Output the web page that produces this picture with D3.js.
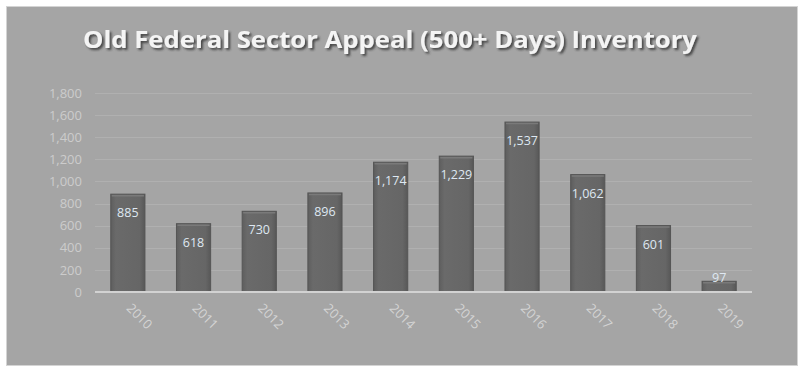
<!DOCTYPE html>
<html>
<head>
<meta charset="utf-8">
<script src="https://cdn.jsdelivr.net/npm/d3@7"></script>
<style>
  body { margin: 0; background: #fff; }
  svg { display: block; }
</style>
</head>
<body>
<div id="chart"></div>
<script>
'use strict'

// chart data
const years = ['2010', '2011', '2012', '2013', '2014', '2015', '2016', '2017', '2018', '2019']
const inventory = [885, 618, 730, 896, 1174, 1229, 1537, 1062, 601, 97]
const yTicks = [0, 200, 400, 600, 800, 1000, 1200, 1400, 1600, 1800]
const title = 'Old Federal Sector Appeal (500+ Days) Inventory'

const W = 805
const H = 374
const margin = { top: 93, right: 53, bottom: 82, left: 95 }
const width = W - margin.left - margin.right
const height = H - margin.top - margin.bottom

const fmt = d3.format(',')

const root = d3.select('#chart')
  .append('svg')
    .attr('width', W)
    .attr('height', H)

const defs = root.append('defs')
const grad = defs.append('linearGradient')
    .attr('id', 'barGrad')
    .attr('x1', 0).attr('x2', 1).attr('y1', 0).attr('y2', 0)
grad.append('stop').attr('offset', '0%').attr('stop-color', '#5e5e5e')
grad.append('stop').attr('offset', '15%').attr('stop-color', '#6a6a6a')
grad.append('stop').attr('offset', '85%').attr('stop-color', '#666666')
grad.append('stop').attr('offset', '100%').attr('stop-color', '#585858')

const shadow = defs.append('filter').attr('id', 'titleShadow')
  .attr('x', '-5%').attr('y', '-30%').attr('width', '110%').attr('height', '160%')
shadow.append('feDropShadow')
  .attr('dx', 2).attr('dy', 2).attr('stdDeviation', 1.2)
  .attr('flood-color', '#333').attr('flood-opacity', 0.8)

// chart area frame
root.append('rect')
  .attr('x', 6.5).attr('y', 6.5)
  .attr('width', 791).attr('height', 359)
  .attr('fill', '#a5a5a5')
  .attr('stroke', '#d4d4d4')
  .attr('stroke-width', 1)

root.append('text')
  .attr('x', 83)
  .attr('y', 48)
  .attr('font-family', 'Open Sans, sans-serif')
  .attr('font-weight', 'bold')
  .attr('font-size', 24)
  .attr('textLength', 614)
  .attr('lengthAdjust', 'spacingAndGlyphs')
  .attr('fill', '#f4f4f4')
  .attr('filter', 'url(#titleShadow)')
  .text(title)

const svg = root.append('g')
    .attr('transform', `translate(${margin.left}, ${margin.top})`)

const x = d3.scaleBand()
  .domain(years)
  .range([0, width])
  .paddingInner(0.48)
  .paddingOuter(0.24)

const y = d3.scaleLinear()
  .domain([0, 1800])
  .range([height, 0])

// gridlines
svg.append('g')
  .selectAll('line')
  .data(yTicks.slice(1))
  .join('line')
    .attr('x1', 0).attr('x2', width)
    .attr('y1', d => Math.round(y(d)) + 0.5)
    .attr('y2', d => Math.round(y(d)) + 0.5)
    .attr('stroke', '#b0b0b0')
    .attr('stroke-width', 1)

// y axis labels
const yAxis = svg.append('g')
  .call(d3.axisLeft(y).tickValues(yTicks).tickFormat(fmt).tickSize(0).tickPadding(13))
yAxis.select('.domain').remove()
yAxis.selectAll('text')
  .attr('fill', '#cccccc')
  .attr('font-family', 'Open Sans, sans-serif')
  .attr('font-size', 13)

// bars
svg.append('g')
  .selectAll('rect')
  .data(inventory)
  .join('rect')
    .attr('x', (d, i) => x(years[i]))
    .attr('y', d => y(d))
    .attr('width', x.bandwidth())
    .attr('height', d => height - y(d))
    .attr('fill', 'url(#barGrad)')
    .attr('stroke', '#555555')
    .attr('stroke-width', 1)

// bevel highlight on top of bars
svg.append('g')
  .selectAll('line')
  .data(inventory)
  .join('line')
    .attr('x1', (d, i) => x(years[i]) + 1)
    .attr('x2', (d, i) => x(years[i]) + x.bandwidth() - 1)
    .attr('y1', d => y(d) + 1.5)
    .attr('y2', d => y(d) + 1.5)
    .attr('stroke', '#7a7a7a')
    .attr('stroke-width', 1.5)

// zero axis line
svg.append('line')
  .attr('x1', 0).attr('x2', width)
  .attr('y1', height).attr('y2', height)
  .attr('stroke', '#d2d2d2')
  .attr('stroke-width', 2)

// value labels
svg.append('g')
  .selectAll('text')
  .data(inventory)
  .join('text')
    .attr('x', (d, i) => x(years[i]) + x.bandwidth() / 2)
    .attr('y', d => (height - y(d) > 25 ? y(d) + 23 : y(d) + 1))
    .attr('text-anchor', 'middle')
    .attr('font-family', 'Open Sans, sans-serif')
    .attr('font-size', 12.5)
    .attr('fill', '#dfe8f2')
    .text(d => fmt(d))

// x axis labels, rotated
svg.append('g')
  .selectAll('text')
  .data(years)
  .join('text')
    .attr('transform', d => `translate(${x(d) + x.bandwidth() / 2 - 2}, ${height + 17}) rotate(45)`)
    .attr('font-family', 'Open Sans, sans-serif')
    .attr('font-size', 13)
    .attr('fill', '#d4d4d4')
    .text(d => d)
</script>
</body>
</html>
